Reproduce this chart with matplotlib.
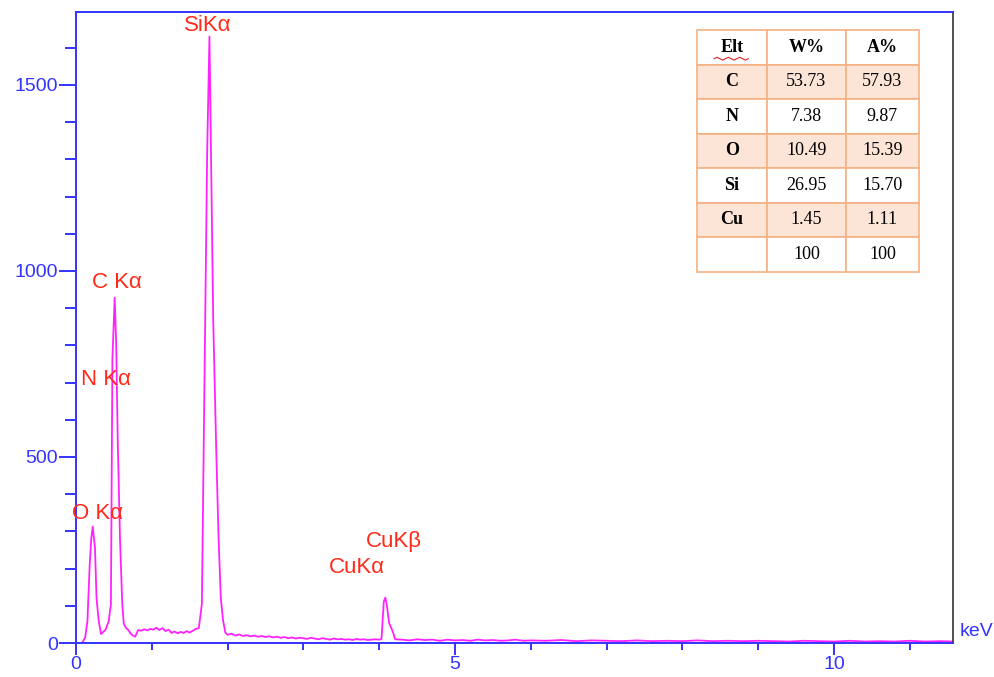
import numpy as np
import matplotlib.pyplot as plt
from matplotlib.ticker import MultipleLocator

# ---------------------------------------------------------------------------
# EDS spectrum: energy in keV, counts
# ---------------------------------------------------------------------------
energy = [
    0.08, 0.12, 0.15, 0.18, 0.20, 0.22, 0.25, 0.27, 0.30, 0.33,
    0.36, 0.39, 0.43, 0.46, 0.47, 0.48, 0.51, 0.53, 0.55, 0.58,
    0.61, 0.63, 0.66, 0.69, 0.72, 0.75, 0.78, 0.82, 0.86, 0.90,
    0.94, 0.98, 1.02, 1.06, 1.10, 1.14, 1.18, 1.22, 1.26, 1.30,
    1.34, 1.38, 1.42, 1.46, 1.50, 1.54, 1.58, 1.62, 1.66, 1.70,
    1.73, 1.76, 1.78, 1.81, 1.85, 1.88, 1.91, 1.94, 1.97, 2.00,
    2.05, 2.10, 2.15, 2.20, 2.25, 2.30, 2.35, 2.40, 2.45, 2.50,
    2.55, 2.60, 2.65, 2.70, 2.75, 2.80, 2.85, 2.90, 2.95, 3.00,
    3.05, 3.10, 3.15, 3.20, 3.25, 3.30, 3.35, 3.40, 3.45, 3.50,
    3.55, 3.60, 3.65, 3.70, 3.75, 3.80, 3.85, 3.90, 3.95, 4.00,
    4.03, 4.06, 4.08, 4.10, 4.13, 4.18, 4.21, 4.30, 4.40, 4.50,
    4.60, 4.70, 4.80, 4.90, 5.00, 5.10, 5.20, 5.30, 5.40, 5.50,
    5.60, 5.70, 5.80, 5.90, 6.00, 6.20, 6.40, 6.60, 6.80, 7.00,
    7.20, 7.40, 7.60, 7.80, 8.00, 8.20, 8.40, 8.60, 8.80, 9.00,
    9.20, 9.40, 9.60, 9.80, 10.00, 10.20, 10.40, 10.60, 10.80, 11.00,
    11.20, 11.40, 11.57,
]
counts = [
    0, 15, 58, 209, 279, 313, 255, 121, 58, 24,
    30, 36, 58, 104, 452, 765, 928, 801, 545, 279,
    104, 52, 40, 35, 25, 20, 17, 35, 33, 37,
    34, 38, 36, 41, 35, 40, 32, 36, 27, 31,
    26, 30, 27, 32, 28, 33, 38, 40, 105, 800,
    1320, 1630, 1320, 865, 515, 285, 120, 60, 28, 22,
    25, 20, 23, 19, 21, 18, 20, 17, 19, 16,
    18, 15, 17, 14, 16, 13, 15, 12, 14, 13,
    11, 14, 12, 10, 13, 11, 9, 12, 10, 11,
    9, 10, 8, 11, 9, 10, 8, 9, 10, 9,
    11, 111, 122, 102, 54, 30, 10, 9, 7, 10,
    8, 9, 6, 9, 7, 8, 6, 9, 7, 8,
    6, 7, 9, 6, 7, 6, 8, 5, 7, 6,
    5, 7, 5, 6, 5, 7, 5, 6, 5, 6,
    5, 4, 6, 5, 4, 6, 4, 5, 4, 6,
    4, 5, 4,
]

# peak labels
peak_names = ['SiK\u03b1', 'C K\u03b1', 'N K\u03b1', 'O K\u03b1', 'CuK\u03b2', 'CuK\u03b1']
peak_label_x = [1.74, 0.534, 0.396, 0.284, 4.19, 3.71]
peak_label_y = [1659, 968, 707, 347, 274, 202]

# composition table
elements = ['C', 'N', 'O', 'Si', 'Cu', '']
weight_pct = ['53.73', '7.38', '10.49', '26.95', '1.45', '100']
atomic_pct = ['57.93', '9.87', '15.39', '15.70', '1.11', '100']

BLUE = '#3333ff'
RED = '#ff2a1a'
MAGENTA = '#ff22ff'

# ---------------------------------------------------------------------------
fig = plt.figure(figsize=(9.94, 6.77), dpi=100)
ax = fig.add_axes([0.0765, 0.0502, 0.8823, 0.9321])

ax.plot(energy, counts, color=MAGENTA, lw=1.3)

ax.set_xlim(0, 11.57)
ax.set_ylim(0, 1696)
ax.xaxis.set_major_locator(MultipleLocator(5))
ax.xaxis.set_minor_locator(MultipleLocator(1))
ax.yaxis.set_major_locator(MultipleLocator(500))
ax.yaxis.set_minor_locator(MultipleLocator(100))

for side in ['left', 'bottom', 'top']:
    ax.spines[side].set_color(BLUE)
    ax.spines[side].set_linewidth(1.4)
ax.spines['right'].set_color('#333333')
ax.spines['right'].set_linewidth(1.2)

ax.tick_params(which='both', colors=BLUE, labelcolor=BLUE, width=1.4,
               labelsize=14, top=False, right=False)
ax.tick_params(axis='y', which='major', length=12, pad=1)
ax.tick_params(axis='y', which='minor', length=8)
ax.tick_params(axis='x', which='major', length=8.5, pad=0.5)
ax.tick_params(axis='x', which='minor', length=5)
for lab in ax.get_xticklabels() + ax.get_yticklabels():
    lab.set_fontfamily('Liberation Sans')

ax.text(1.008, 0.004, 'keV', transform=ax.transAxes, color=BLUE,
        fontsize=14, family='Liberation Sans', ha='left', va='bottom')

for name, px, py in zip(peak_names, peak_label_x, peak_label_y):
    ax.text(px, py, name, color=RED, fontsize=16, family='Liberation Sans',
            ha='center', va='center')

# composition table
cell_text = [['Elt', 'W%', 'A%']]
for e, w, a in zip(elements, weight_pct, atomic_pct):
    cell_text.append([e, w, a])
shade = '#fce4d6'
colours = []
for i in range(len(cell_text)):
    c = shade if i in (1, 3, 5) else 'white'
    colours.append([c, c, c])

tbl = ax.table(cellText=cell_text, cellColours=colours, cellLoc='center',
               colWidths=[70 / 222, 79 / 222, 73 / 222],
               bbox=[0.708, 0.5884, 0.2531, 0.383], zorder=3)
tbl.auto_set_font_size(False)
for (r, c), cell in tbl.get_celld().items():
    cell.set_edgecolor('#f4b183')
    cell.set_linewidth(1.2)
    txt = cell.get_text()
    txt.set_fontfamily('Liberation Serif')
    txt.set_fontsize(13)
    if r == 0 or c == 0:
        txt.set_fontweight('bold')

# red spell-check squiggle under "Elt"
sx = np.linspace(0.7275, 0.7665, 13)
sy = 0.926 + 0.0022 * np.array([0, 1, 0, -1] * 3 + [0])
ax.plot(sx, sy, transform=ax.transAxes, color='#e02020', lw=0.8,
        zorder=4, clip_on=False)

fig.savefig('out.png', dpi=100)
